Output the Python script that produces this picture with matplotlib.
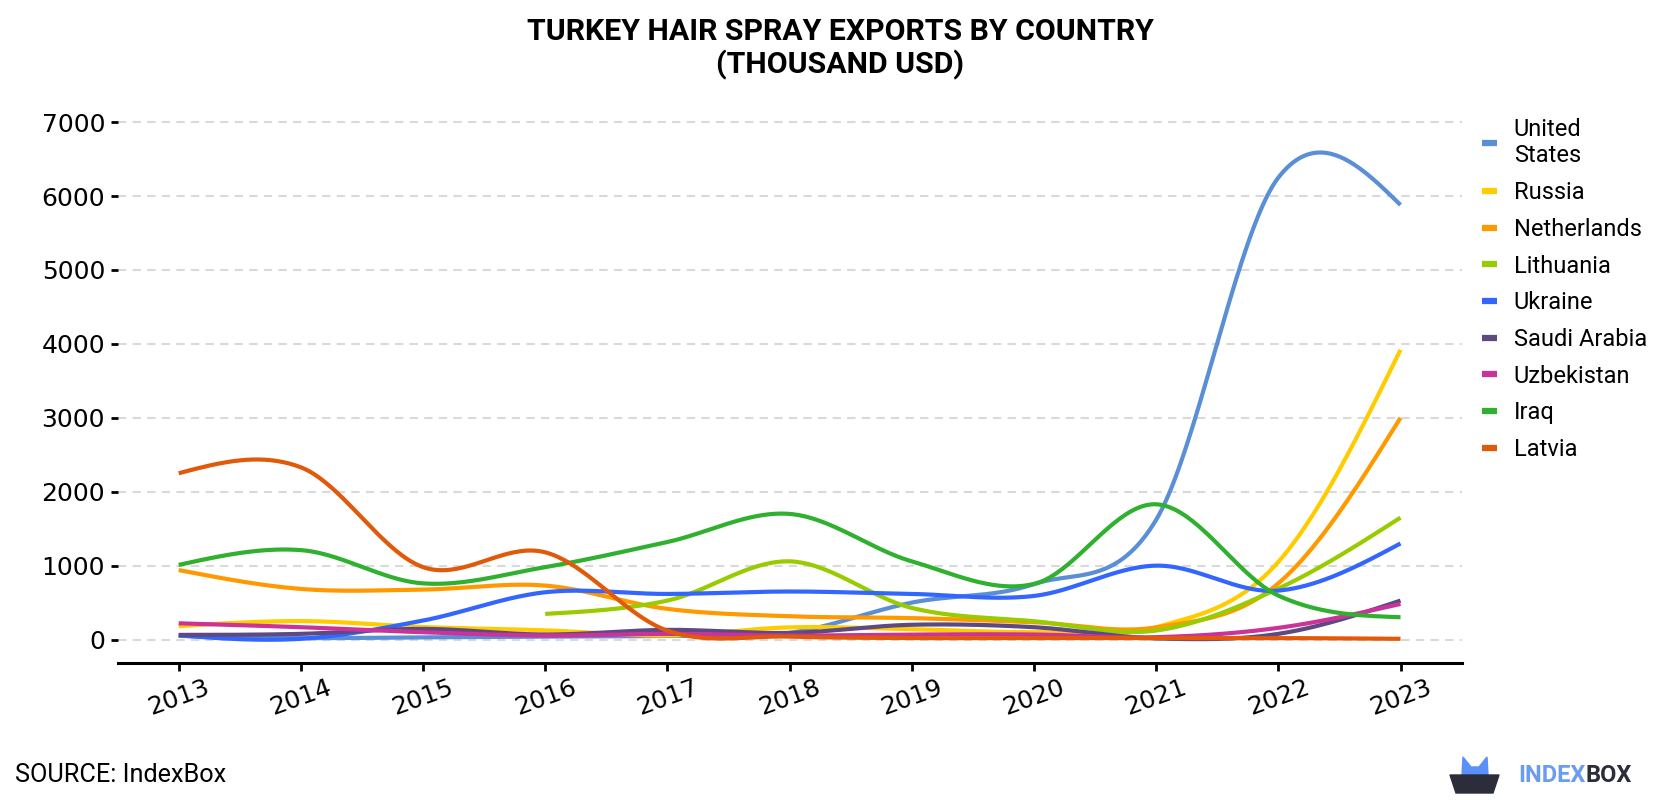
import matplotlib.pyplot as plt
import numpy as np
from matplotlib.patches import Polygon

plt.rcParams['font.family'] = ['Roboto', 'DejaVu Sans']

# data (thousand USD)
years = [2013, 2014, 2015, 2016, 2017, 2018, 2019, 2020, 2021, 2022, 2023]
countries = ['United\nStates', 'Russia', 'Netherlands', 'Lithuania', 'Ukraine',
             'Saudi Arabia', 'Uzbekistan', 'Iraq', 'Latvia']
us = [50, 20, 30, 40, 50, 90, 500, 750, 1620, 6250, 5880]
russia = [180, 250, 170, 125, 55, 165, 140, 100, 165, 1050, 3920]
netherlands = [940, 685, 676, 730, 415, 315, 290, 234, 165, 760, 3000]
lithuania = [np.nan, np.nan, np.nan, 347, 527, 1058, 428, 248, 122, 690, 1650]
ukraine = [55, 10, 257, 640, 617, 650, 617, 590, 1000, 662, 1300]
saudi = [63, 77, 144, 68, 131, 90, 200, 167, 15, 77, 527]
uzbekistan = [220, 167, 99, 54, 77, 54, 68, 68, 32, 158, 482]
iraq = [1010, 1210, 760, 980, 1320, 1700, 1058, 752, 1830, 595, 302]
latvia = [2250, 2330, 980, 1180, 120, 40, 20, 20, 20, 20, 10]

series = [us, russia, netherlands, lithuania, ukraine, saudi, uzbekistan, iraq, latvia]
colors = ['#5a8fd6', '#ffcc00', '#ff9900', '#99cc00', '#3366ff',
          '#5e4a82', '#cc3399', '#2fb02f', '#e05a0a']


def smooth(x, y, n=40):
    # cubic hermite through the points, Catmull-Rom tangents, natural ends
    x = np.asarray(x, float)
    y = np.asarray(y, float)
    m = np.zeros_like(y)
    m[1:-1] = (y[2:] - y[:-2]) / (x[2:] - x[:-2])
    if len(y) > 2:
        m[0] = (3 * (y[1] - y[0]) / (x[1] - x[0]) - m[1]) / 2
        m[-1] = (3 * (y[-1] - y[-2]) / (x[-1] - x[-2]) - m[-2]) / 2
    xs, ys = [], []
    for i in range(len(x) - 1):
        h = x[i + 1] - x[i]
        t = np.linspace(0, 1, n, endpoint=(i == len(x) - 2))
        h00 = 2 * t**3 - 3 * t**2 + 1
        h10 = t**3 - 2 * t**2 + t
        h01 = -2 * t**3 + 3 * t**2
        h11 = t**3 - t**2
        xs.append(x[i] + t * h)
        ys.append(h00 * y[i] + h10 * h * m[i] + h01 * y[i + 1] + h11 * h * m[i + 1])
    return np.concatenate(xs), np.concatenate(ys)


fig = plt.figure(figsize=(16.8, 8), dpi=100)
ax = fig.add_axes([0.070, 0.171, 0.800, 0.704])

for name, vals, c in zip(countries, series, colors):
    v = np.array(vals, float)
    ok = ~np.isnan(v)
    sx, sy = smooth(np.array(years)[ok], v[ok])
    ax.plot(sx, sy, color=c, lw=3, label=name, solid_capstyle='butt')

ax.set_xlim(2012.5, 2023.5)
ax.set_ylim(-320, 7300)
ax.set_yticks(range(0, 7001, 1000))
ax.set_yticklabels([str(v) for v in range(0, 7001, 1000)], family='DejaVu Sans', fontsize=18)
ax.set_xticks(years)
ax.set_xticklabels([str(y) for y in years], rotation=20, fontsize=18, family='DejaVu Sans')
ax.tick_params(axis='y', length=5, width=2, pad=4)
ax.tick_params(axis='x', length=6, width=2, pad=3)
ax.grid(axis='y', color='#d9d9d9', ls=(0, (4, 3)), lw=1.5)
ax.set_axisbelow(True)
for s in ['top', 'right', 'left']:
    ax.spines[s].set_visible(False)
ax.spines['bottom'].set_linewidth(2.2)

leg = ax.legend(loc='upper left', bbox_to_anchor=(1.008, 0.985), frameon=False,
                fontsize=17, handlelength=0.65, handletextpad=0.7,
                labelspacing=0.58, borderaxespad=0)
for line in leg.get_lines():
    line.set_linewidth(4.5)

fig.text(0.5, 0.978, 'TURKEY HAIR SPRAY EXPORTS BY COUNTRY\n(THOUSAND USD)',
         ha='center', va='top', fontsize=21.8, fontweight='bold', linespacing=1.2)
fig.text(0.009, 0.031, 'SOURCE: IndexBox', fontsize=18.2, va='center')

# logo
box = Polygon([(1450, 25), (1499, 25), (1493, 7), (1456, 7)], closed=True,
              transform=None, color='#2b2d3a')
ears = Polygon([(1462, 25), (1463, 43), (1471, 33), (1479, 33), (1487, 43), (1488, 25)],
               closed=True, transform=None, color='#5b8ff9')
fig.patches.extend([ears, box])
t1 = fig.text(1518 / 1680, 0.031, 'INDEX', color='#6c9cf2', fontsize=17,
              fontweight='bold', va='center')
fig.canvas.draw()
bb = t1.get_window_extent(fig.canvas.get_renderer())
fig.text(bb.x1 / 1680, 0.031, 'BOX', color='#2b2d3a', fontsize=17,
         fontweight='bold', va='center')

fig.savefig('out.png', dpi=100)
